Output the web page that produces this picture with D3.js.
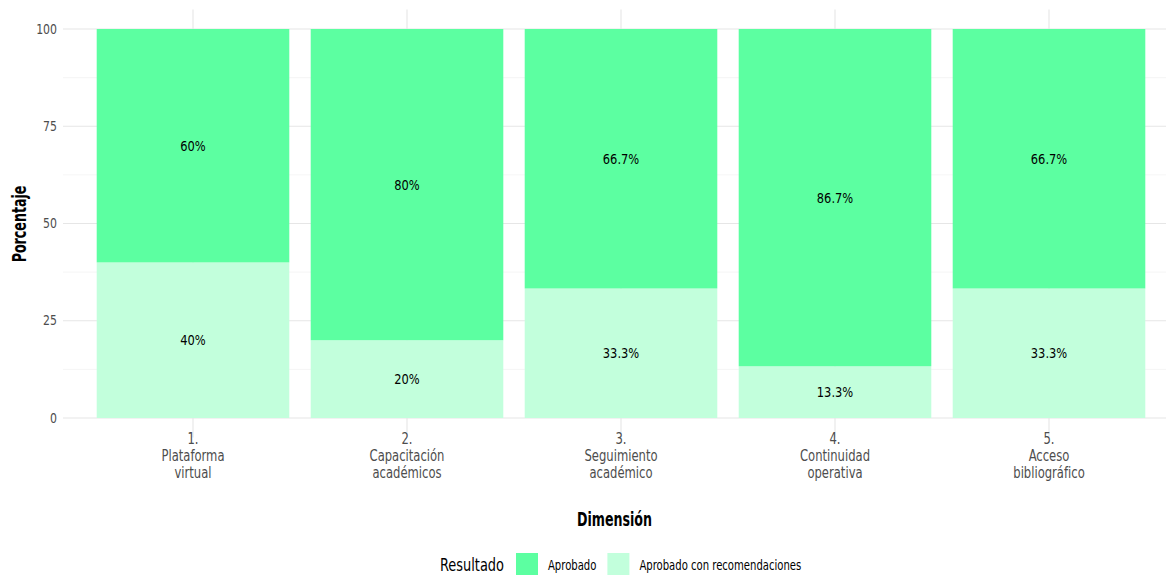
<!DOCTYPE html>
<html lang="es">
<head>
<meta charset="UTF-8">
<title>Resultado por dimensión</title>
<script src="https://d3js.org/d3.v7.min.js"></script>
<style>
  body { margin: 0; background: #fff; }
  svg text { font-family: "DejaVu Sans", sans-serif; font-stretch: condensed; }
</style>
</head>
<body>
<div id="chart"></div>
<script>
// categories (multi-line tick labels)
const dimensiones = [
  ["1.", "Plataforma", "virtual"],
  ["2.", "Capacitación", "académicos"],
  ["3.", "Seguimiento", "académico"],
  ["4.", "Continuidad", "operativa"],
  ["5.", "Acceso", "bibliográfico"]
];
const aprobado = [60, 80, 66.7, 86.7, 66.7];
const conRecomendaciones = [40, 20, 33.3, 13.3, 33.3];
const etiquetasAprobado = ["60%", "80%", "66.7%", "86.7%", "66.7%"];
const etiquetasRecom = ["40%", "20%", "33.3%", "13.3%", "33.3%"];
const yTicks = [0, 25, 50, 75, 100];
const yMinor = [12.5, 37.5, 62.5, 87.5];
const resultados = ["Aprobado", "Aprobado con recomendaciones"];
const colores = ["#5cffa1", "#c2ffdc"];

const width = 1169, height = 576;
const panel = { left: 63, right: 1166, top: 9.5, bottom: 437.5 };

const svg = d3.select("#chart").append("svg")
    .attr("width", width)
    .attr("height", height);

// the original font is narrower than anything installed, so squeeze text horizontally
function addText(parent, x, y, opts) {
  const g = parent.append("g")
    .attr("transform", `translate(${x},${y}) rotate(${opts.rotate || 0}) scale(${opts.sx},1)`);
  return g.append("text")
    .attr("text-anchor", opts.anchor || "middle")
    .attr("font-size", opts.size)
    .attr("font-weight", opts.bold ? "bold" : null)
    .attr("fill", opts.fill || "#000");
}

const keys = dimensiones.map((d, i) => String(i));

const x = d3.scaleBand()
    .domain(keys)
    .range([86, 1156])
    .paddingInner(0.1)
    .paddingOuter(0.05);

const y = d3.scaleLinear()
    .domain([0, 100])
    .range([418, 29]);

// grid
const grid = svg.append("g");
grid.selectAll(".minor").data(yMinor).enter().append("line")
    .attr("x1", panel.left).attr("x2", panel.right)
    .attr("y1", d => y(d)).attr("y2", d => y(d))
    .attr("stroke", "#f2f2f2").attr("stroke-width", 0.8);
grid.selectAll(".major").data(yTicks).enter().append("line")
    .attr("x1", panel.left).attr("x2", panel.right)
    .attr("y1", d => y(d)).attr("y2", d => y(d))
    .attr("stroke", "#e6e6e6").attr("stroke-width", 1.1);
grid.selectAll(".vert").data(keys).enter().append("line")
    .attr("x1", d => x(d) + x.bandwidth() / 2).attr("x2", d => x(d) + x.bandwidth() / 2)
    .attr("y1", panel.top).attr("y2", panel.bottom)
    .attr("stroke", "#e6e6e6").attr("stroke-width", 1.1);

// stacked data
const rows = keys.map((k, i) => ({
  key: k,
  segs: [
    { base: 0, top: conRecomendaciones[i], color: colores[1], label: etiquetasRecom[i] },
    { base: conRecomendaciones[i], top: conRecomendaciones[i] + aprobado[i], color: colores[0], label: etiquetasAprobado[i] }
  ]
}));

const bars = svg.append("g");
rows.forEach(r => {
  r.segs.forEach(s => {
    bars.append("rect")
      .attr("x", x(r.key))
      .attr("width", x.bandwidth())
      .attr("y", y(s.top))
      .attr("height", y(s.base) - y(s.top))
      .attr("fill", s.color);
  });
});
rows.forEach(r => {
  r.segs.forEach(s => {
    addText(bars, x(r.key) + x.bandwidth() / 2, y((s.base + s.top) / 2), { sx: 0.88, size: 14.5 })
      .attr("dy", "0.35em")
      .text(s.label);
  });
});

// y axis labels
const yl = svg.append("g");
yTicks.forEach(v => {
  addText(yl, 57, y(v), { sx: 0.9, size: 13.5, anchor: "end", fill: "#4d4d4d" })
    .attr("dy", "0.35em")
    .text(v);
});

// x axis labels
const xl = svg.append("g");
dimensiones.forEach((lines, i) => {
  const t = addText(xl, x(keys[i]) + x.bandwidth() / 2, 432.5, { sx: 0.86, size: 15, fill: "#4d4d4d" });
  lines.forEach((l, j) => {
    t.append("tspan")
      .attr("x", 0)
      .attr("dy", j === 0 ? "0.75em" : 17)
      .text(l);
  });
});

// axis titles
addText(svg, (panel.left + panel.right) / 2, 526, { sx: 0.74, size: 19, bold: true })
    .text("Dimensión");

addText(svg, 26, 224, { sx: 0.74, size: 19, bold: true, rotate: -90 })
    .text("Porcentaje");

// legend, laid out from measured text widths
const lg = svg.append("g");
const lsx = 0.8;
const title = addText(lg, 440, 565, { sx: lsx, size: 18, anchor: "start" })
    .attr("dy", "0.35em")
    .text("Resultado");
let cx = 440 + title.node().getComputedTextLength() * lsx + 12;
resultados.forEach((r, i) => {
  lg.append("rect")
    .attr("x", cx).attr("y", 553)
    .attr("width", 22).attr("height", 22)
    .attr("fill", colores[i]);
  const t = addText(lg, cx + 32, 565, { sx: lsx, size: 14, anchor: "start" })
    .attr("dy", "0.35em")
    .text(r);
  cx += 32 + t.node().getComputedTextLength() * lsx + 11;
});
</script>
</body>
</html>
